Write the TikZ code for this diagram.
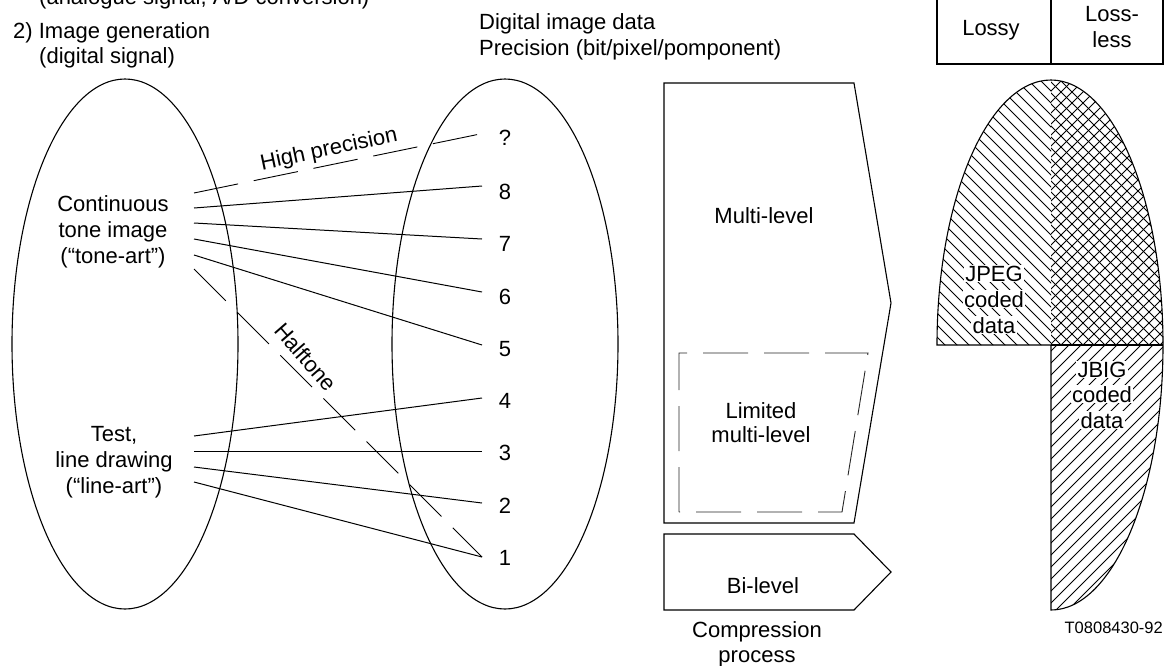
\documentclass[tikz,border=0pt]{standalone}
\usepackage{fontspec}
\setmainfont{Liberation Sans}
\usetikzlibrary{shapes.geometric}
\begin{document}
\begin{tikzpicture}[x=1pt,y=-1pt,
  txt/.style={font=\fontsize{22}{26}\selectfont, inner sep=0pt},
  lbl/.style={txt, anchor=base},
  lblw/.style={txt, anchor=base west},
  ell/.style={draw, line width=1.1pt, ellipse, minimum width=226pt, minimum height=530pt, inner sep=0pt},
  conn/.style={line width=1pt},
  dashconn/.style={line width=0.9pt, dash pattern=on 45pt off 16pt},
  box/.style={draw, line width=1.1pt, line join=miter},
  hlbl/.style={txt, anchor=base, fill=white, inner xsep=1.5pt, inner ysep=1pt},
  hatch/.style={line width=0.75pt}
]
\useasboundingbox (0,0) rectangle (1165,665);

% headings
\node[lblw] (h0) at (39,4) {(analogue signal, A/D conversion)};
\node[lblw] (h1) at (13,38) {2) Image generation};
\node[lblw] (h2) at (39,63) {(digital signal)};
\node[lblw] (h3) at (479,29) {Digital image data};
\node[lblw] (h4) at (479,55) {Precision (bit/pixel/pomponent)};

% ellipses
\node[ell] (src) at (125,344) {};
\node[ell] (dst) at (505,344) {};

% source texts
\node[lbl] (t1) at (113,211) {Continuous};
\node[lbl] (t2) at (113,237) {tone image};
\node[lbl] (t3) at (113,263) {(“tone-art”)};
\node[lbl] (l1) at (114,441) {Test,};
\node[lbl] (l2) at (114,467) {line drawing};
\node[lbl] (l3) at (114,493) {(“line-art”)};

% precision numbers
\node[lbl] (nq) at (505,145) {?};
\node[lbl] (n8) at (505,199) {8};
\node[lbl] (n7) at (505,251) {7};
\node[lbl] (n6) at (505,304) {6};
\node[lbl] (n5) at (505,356) {5};
\node[lbl] (n4) at (505,408) {4};
\node[lbl] (n3) at (505,460) {3};
\node[lbl] (n2) at (505,513) {2};
\node[lbl] (n1) at (505,565) {1};

% connector end points
\coordinate (a0) at (194,193);
\coordinate (a8) at (194,208);
\coordinate (a7) at (194,223);
\coordinate (a6) at (194,239);
\coordinate (a5) at (194,255);
\coordinate (ah) at (194,269);
\coordinate (b4) at (194,436);
\coordinate (b3) at (194,451);
\coordinate (b2) at (194,467);
\coordinate (b1) at (194,482);
\coordinate (rq) at (480,134);
\coordinate (r8) at (482,186);
\coordinate (r7) at (482,239);
\coordinate (r6) at (482,292);
\coordinate (r5) at (482,345);
\coordinate (r4) at (482,398);
\coordinate (r3) at (482,451);
\coordinate (r2) at (482,503);
\coordinate (r1) at (482,557);

\draw[dashconn] (a0) -- (rq);
\draw[conn] (a8) -- (r8);
\draw[conn] (a7) -- (r7);
\draw[conn] (a6) -- (r6);
\draw[conn] (a5) -- (r5);
\draw[dashconn] (ah) -- (r1);
\draw[conn] (b4) -- (r4);
\draw[conn] (b3) -- (r3);
\draw[conn] (b2) -- (r2);
\draw[conn] (b1) -- (r1);

\node[txt, rotate=12] (hp) at (329,150) {High precision};
\node[txt, rotate=-49] (ht) at (306,357) {Halftone};

% compression process
\draw[box] (664,83) -- (854,83) -- (891,303) -- (854,523) -- (664,523) -- cycle;
\node[lbl] (ml) at (764,223) {Multi-level};
\draw[line width=0.9pt, dash pattern=on 45pt off 16pt, black!85] (679,512) -- (679,353) -- (868,353) -- (842,512) -- cycle;
\node[lbl] (lm1) at (761,418) {Limited};
\node[lbl] (lm2) at (761,442) {multi-level};
\draw[box] (664,534) -- (854,534) -- (891,572) -- (854,610) -- (664,610) -- cycle;
\node[lbl] (bl) at (763,593) {Bi-level};
\node[lbl] (cp1) at (757,637) {Compression};
\node[lbl] (cp2) at (757,662) {process};

% lossy / lossless table
\draw[box] (937,-5) -- (937,64) -- (1163,64) -- (1163,-5);
\draw[box] (1051,-5) -- (1051,64);
\node[lbl] (ly) at (991,35) {Lossy};
\node[lbl] (ll1) at (1112,21) {Loss-};
\node[lbl] (ll2) at (1112,47) {less};

% coded data shape: hatching
\begin{scope}
  \clip (1051,345) -- (937,345) arc[start angle=180, end angle=90, x radius=114pt, y radius=265pt] -- cycle;
  \foreach \c in {-984,-972,...,-576} \draw[hatch] (925,925+\c) -- (1065,1065+\c);
\end{scope}
\begin{scope}
  \clip (1051,80) arc[start angle=90, end angle=0, x radius=112pt, y radius=265pt] -- (1051,345) -- cycle;
  \foreach \c in {-980,-969,...,-690} \draw[hatch] (1040,1040+\c) -- (1175,1175+\c);
  \foreach \c in {1120,1131,...,1520} \draw[hatch] (1040,\c-1040) -- (1175,\c-1175);
\end{scope}
\begin{scope}
  \clip (1163,345) arc[start angle=0, end angle=-90, x radius=112pt, y radius=265pt] -- (1051,345) -- cycle;
  \foreach \c in {1390,1402,...,1790} \draw[hatch] (1040,\c-1040) -- (1175,\c-1175);
\end{scope}
\draw[line width=1.1pt] (1051,345) -- (937,345) arc[start angle=180, end angle=90, x radius=114pt, y radius=265pt]
   arc[start angle=90, end angle=-90, x radius=112pt, y radius=265pt] -- cycle;
\draw[line width=1.1pt] (1051,345) -- (1163,345);

\node[hlbl] (jp1) at (994,281) {JPEG};
\node[hlbl] (jp2) at (994,307) {coded};
\node[hlbl] (jp3) at (994,333) {data};
\node[hlbl] (jb1) at (1102,377) {JBIG};
\node[hlbl] (jb2) at (1102,402) {coded};
\node[hlbl] (jb3) at (1102,428) {data};

\node[txt, font=\fontsize{16.5}{20}\selectfont, anchor=base east] (id) at (1163,633) {T0808430-92};
\end{tikzpicture}
\end{document}
